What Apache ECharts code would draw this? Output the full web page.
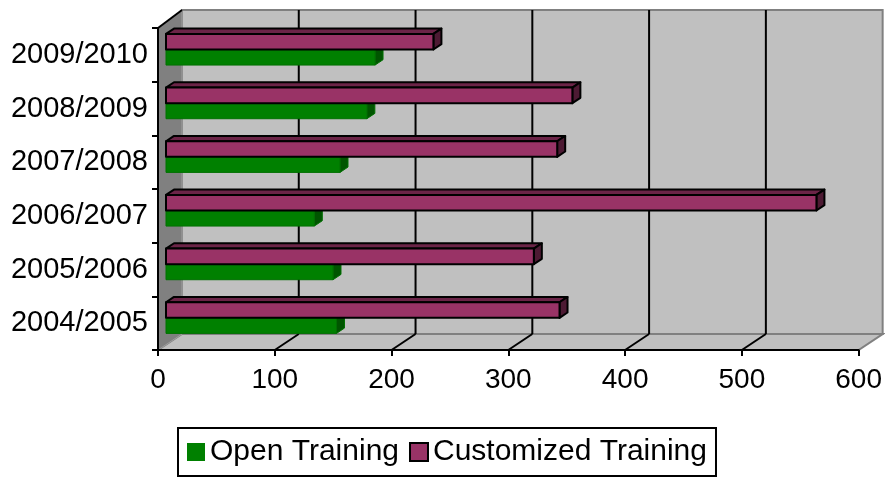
<!DOCTYPE html>
<html>
<head>
<meta charset="utf-8">
<script src="https://cdn.jsdelivr.net/npm/echarts@6/dist/echarts.min.js"></script>
<style>
  html, body { margin: 0; padding: 0; background: #fff; }
  #chart { width: 885px; height: 481px; }
</style>
</head>
<body>
<div id="chart"></div>
<script>
const categories = ['2004/2005', '2005/2006', '2006/2007', '2007/2008', '2008/2009', '2009/2010']
const openTraining = [146, 143, 127, 149, 172, 179]
const customizedTraining = [337, 315, 557, 335, 348, 229]
const gridTicks = [100, 200, 300, 400, 500]

// 3D depth of the walls (px), bars sit in the middle third
const DX = 24
const DY = -16
const FONT = 'Liberation Sans, Arial, sans-serif'

const chart = echarts.init(document.getElementById('chart'))

// 背景墙 + 地板
const renderWalls = (params, api) => {
  const cs = params.coordSys
  const bottom = cs.y + cs.height
  const backTop = cs.y - 18
  return {
    type: 'group',
    children: [
      {
        type: 'rect',
        shape: { x: cs.x + DX, y: backTop, width: cs.width, height: bottom + DY - backTop },
        style: { fill: '#c0c0c0', stroke: '#808080', lineWidth: 2 }
      },
      {
        type: 'polygon',
        shape: { points: [[cs.x, bottom], [cs.x + DX, bottom + DY], [cs.x + cs.width + DX, bottom + DY], [cs.x + cs.width, bottom]] },
        style: { fill: '#c0c0c0', stroke: '#808080', lineWidth: 2 }
      },
      {
        type: 'polygon',
        shape: { points: [[cs.x, cs.y], [cs.x + DX, backTop], [cs.x + DX, bottom + DY], [cs.x, bottom]] },
        style: { fill: '#808080', stroke: '#a0a0a0', lineWidth: 1 }
      },
      {
        type: 'line',
        shape: { x1: cs.x, y1: cs.y, x2: cs.x + DX, y2: backTop },
        style: { stroke: '#000', lineWidth: 2 }
      }
    ]
  }
}

const renderGridLine = (params, api) => {
  const cs = params.coordSys
  const bottom = cs.y + cs.height
  const x = api.coord([api.value(0), 0])[0]
  return {
    type: 'group',
    children: [
      {
        type: 'line',
        shape: { x1: x, y1: bottom, x2: x + DX, y2: bottom + DY },
        style: { stroke: '#000', lineWidth: 2 }
      },
      {
        type: 'line',
        shape: { x1: x + DX, y1: bottom + DY, x2: x + DX, y2: cs.y - 18 },
        style: { stroke: '#000', lineWidth: 2 }
      }
    ]
  }
}

const makeBar = (colors, upper) => (params, api) => {
  const cat = api.value(1)
  const p0 = api.coord([0, cat])
  const p1 = api.coord([api.value(0), cat])
  const band = api.size([0, 1])[1]
  const h = band * 0.29
  const dx = DX / 3
  const dy = DY / 3
  const cy = p0[1] + dy
  const top = upper ? cy - h : cy
  const bottom = top + h
  const x0 = p0[0] + dx
  const x1 = p1[0] + dx
  const st = { stroke: colors.stroke, lineWidth: colors.lineWidth, lineJoin: 'round' }
  return {
    type: 'group',
    children: [
      {
        type: 'polygon',
        shape: { points: [[x0, top], [x0 + dx, top + dy], [x1 + dx, top + dy], [x1, top]] },
        style: Object.assign({ fill: colors.top }, st)
      },
      {
        type: 'polygon',
        shape: { points: [[x1, top], [x1 + dx, top + dy], [x1 + dx, bottom + dy], [x1, bottom]] },
        style: Object.assign({ fill: colors.side }, st)
      },
      {
        type: 'rect',
        shape: { x: x0, y: top, width: x1 - x0, height: h },
        style: Object.assign({ fill: colors.front }, st)
      }
    ]
  }
}

const option = {
  animation: false,
  backgroundColor: '#fff',
  textStyle: { fontFamily: FONT },
  grid: { left: 158, right: 25, top: 28, bottom: 131 },
  legend: {
    left: 178,
    top: 428,
    padding: [9, 9],
    borderColor: '#000',
    borderWidth: 2,
    borderRadius: 0,
    itemWidth: 18,
    itemHeight: 18,
    itemGap: 10,
    icon: 'rect',
    textStyle: { fontSize: 30, color: '#000', fontFamily: FONT },
    data: [
      { name: 'Open Training', itemStyle: { color: '#008000', borderWidth: 0 } },
      { name: 'Customized Training', itemStyle: { color: '#993366', borderColor: '#000', borderWidth: 2 } }
    ]
  },
  xAxis: {
    type: 'value',
    min: 0,
    max: 600,
    interval: 100,
    z: 10,
    axisLine: { show: true, lineStyle: { color: '#000', width: 2 } },
    axisTick: { show: true, length: 6, lineStyle: { color: '#000', width: 2 } },
    axisLabel: { fontSize: 28, color: '#000', margin: 16, fontFamily: FONT },
    splitLine: { show: false }
  },
  yAxis: {
    type: 'category',
    data: categories,
    z: 10,
    axisLine: { show: true, lineStyle: { color: '#000', width: 2 } },
    axisTick: { show: true, length: 6, lineStyle: { color: '#000', width: 2 } },
    axisLabel: { fontSize: 29, color: '#000', margin: 10, fontFamily: FONT },
    splitLine: { show: false }
  },
  series: [
    {
      name: 'walls',
      type: 'custom',
      silent: true,
      renderItem: renderWalls,
      data: [[0, 0]]
    },
    {
      name: 'gridlines',
      type: 'custom',
      silent: true,
      renderItem: renderGridLine,
      data: gridTicks.map(v => [v, 0])
    },
    {
      name: 'Open Training',
      type: 'custom',
      itemStyle: { color: '#008000' },
      renderItem: makeBar({ front: '#008000', top: '#00a000', side: '#005500', stroke: '#007000', lineWidth: 1 }, false),
      data: openTraining.map((v, i) => [v, i])
    },
    {
      name: 'Customized Training',
      type: 'custom',
      itemStyle: { color: '#993366' },
      renderItem: makeBar({ front: '#993366', top: '#6b2447', side: '#4d1a33', stroke: '#000', lineWidth: 2 }, true),
      data: customizedTraining.map((v, i) => [v, i])
    }
  ]
}

chart.setOption(option)
</script>
</body>
</html>
